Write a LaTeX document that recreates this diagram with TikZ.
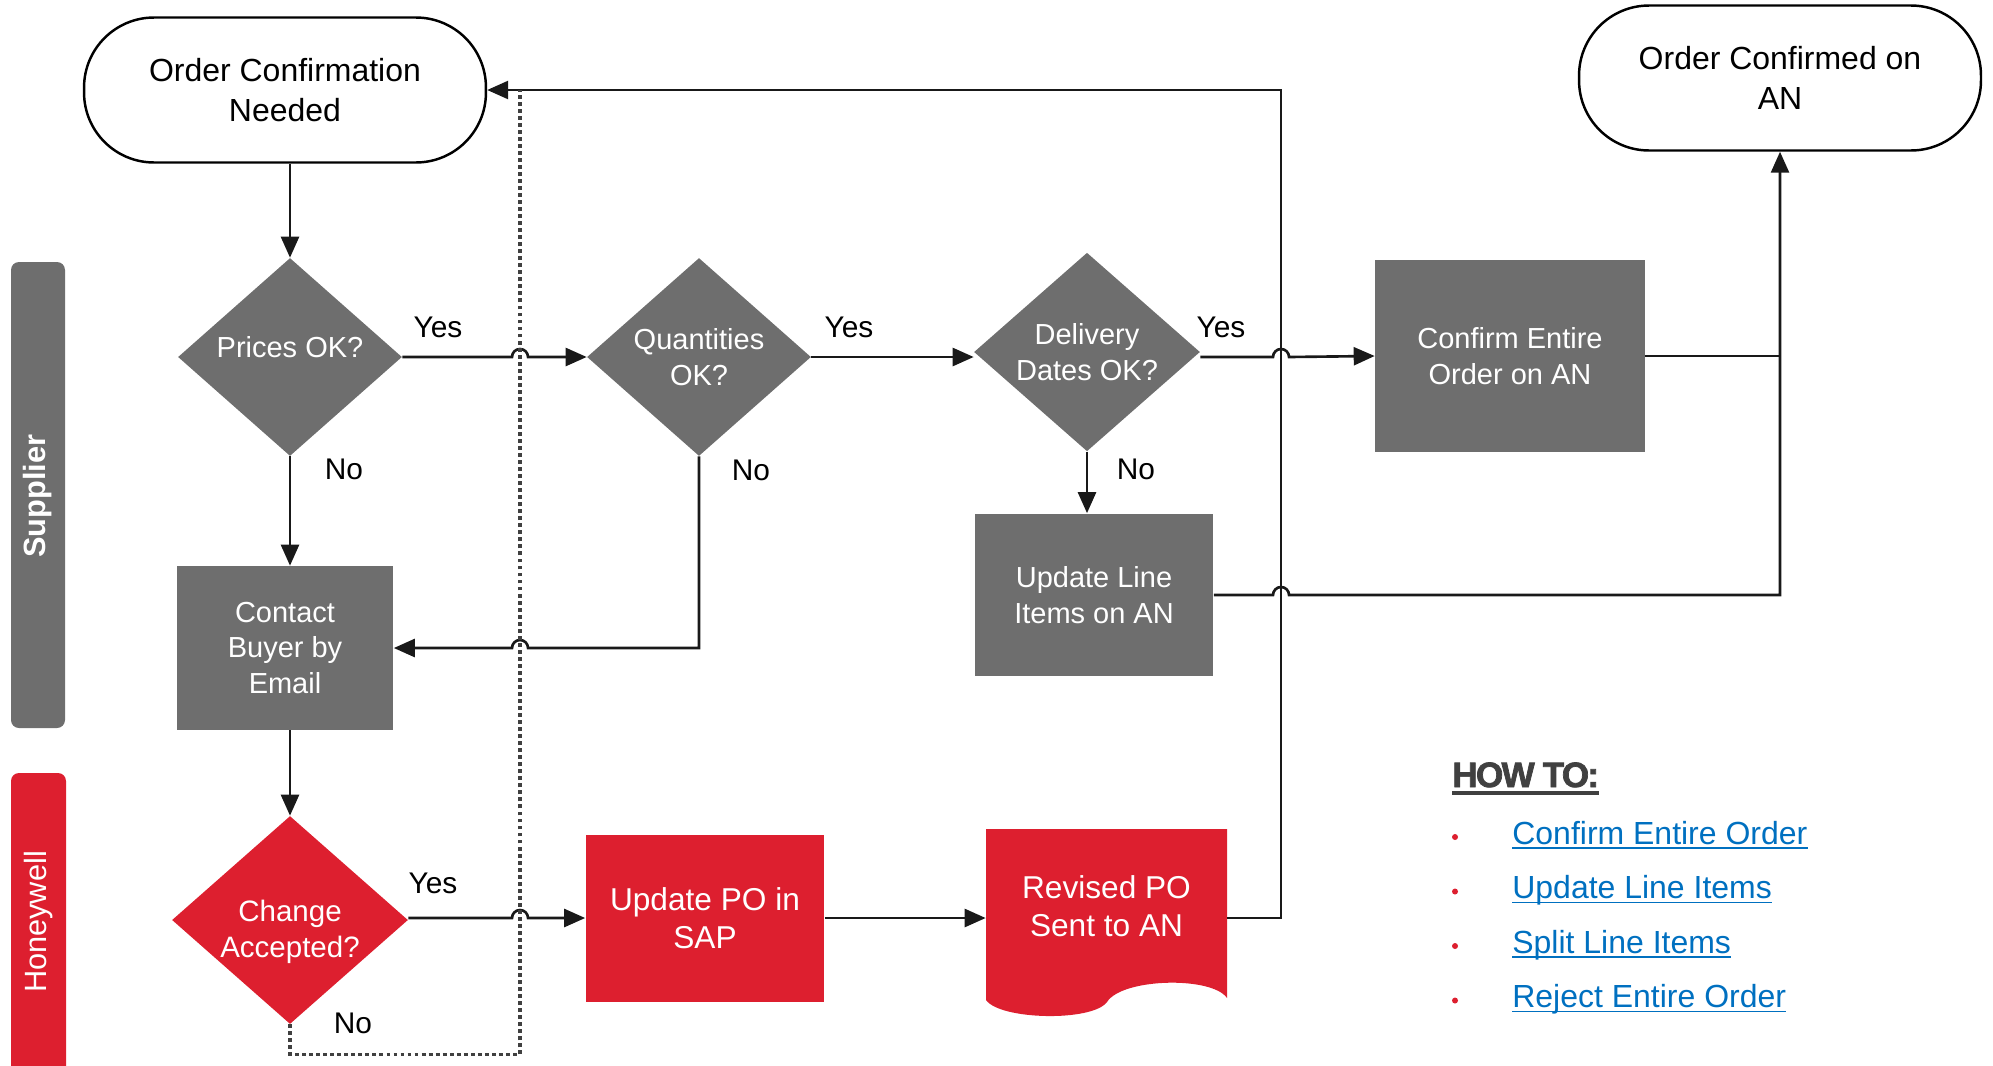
\documentclass[tikz,border=0pt]{standalone}
\usepackage{fontspec}
\setmainfont{Liberation Sans}
\newfontfamily\heavyfont[FakeBold=2,LetterSpace=-5]{Liberation Sans Bold}
\usetikzlibrary{arrows.meta,shapes.geometric,calc}
\definecolor{hwred}{HTML}{DD1F2F}
\definecolor{boxgray}{HTML}{6E6E6E}
\definecolor{linkblue}{HTML}{0070C0}
\definecolor{headgray}{HTML}{404040}
\newcommand\fs[2]{\fontsize{#1}{#2}\selectfont}

\begin{document}
\begin{tikzpicture}[x=0.02cm,y=-0.02cm,
  term/.style={draw,line width=1.4pt,rounded corners=1.4cm,minimum width=8.04cm,minimum height=2.9cm,align=center,font=\fs{18.2}{22.4}},
  decide/.style={diamond,fill=boxgray,text=white,inner sep=0pt,minimum width=4.48cm,minimum height=3.96cm,align=center,font=\fs{16.5}{20.2}},
  grybox/.style={rectangle,fill=boxgray,text=white,align=center,font=\fs{16.5}{20.2}},
  redbox/.style={rectangle,fill=hwred,text=white,align=center,font=\fs{18}{21.6}},
  conn/.style={line width=1.5pt,draw=black!90},
  arr/.style={conn,-{Triangle[length=0.42cm,width=0.36cm]}},
  lbl/.style={font=\fs{17}{20}},
  lane/.style={text=white,rotate=90,font=\fs{17.5}{20}},
  linkitem/.style={anchor=base west,inner sep=0pt,text=linkblue,font=\fs{18.2}{22}}]
\useasboundingbox (0,0) rectangle (1993,1065);

\fill[boxgray,rounded corners=0.16cm] (11,262) rectangle (65,728);
\node[lane,font=\bfseries\fs{17.5}{20}] (supp) at (38,496) {Supplier};
\fill[hwred,rounded corners=0.16cm] (11,773) rectangle (66,1120);
\node[lane] (hw) at (39,922) {Honeywell};

\coordinate (dot) at (520,0);
\coordinate (ret) at (1281,0);

\node[term] (start) at (285,90) {Order Confirmation\\Needed};
\node[term] (done) at (1780,78) {Order Confirmed on\\AN};
\node[decide,text depth=0.42cm] (prices) at (290,357) {Prices OK?};
\node[decide] (qty) at (699,357) {Quantities\\OK?};
\node[decide,minimum width=4.52cm,minimum height=3.94cm] (dates) at (1087,352) {Delivery\\Dates OK?};
\node[grybox,minimum width=5.4cm,minimum height=3.86cm] (whole) at (1510,356) {Confirm Entire\\Order on AN};
\node[grybox,minimum width=4.78cm,minimum height=3.26cm] (lines) at (1094,595) {Update Line\\Items on AN};
\node[grybox,minimum width=4.34cm,minimum height=3.28cm] (buyer) at (285,648) {Contact\\Buyer by\\Email};
\node[decide,fill=hwred,minimum width=4.72cm,minimum height=4.16cm,font=\fs{16.8}{20.2}] (accept) at (290,920) {\raisebox{-0.4cm}[0pt][0pt]{\begin{tabular}{@{}c@{}}Change\\Accepted?\end{tabular}}};
\node[redbox,minimum width=4.78cm,minimum height=3.34cm] (sap) at (705,918) {Update PO in\\SAP};
\fill[hwred] (986,829) -- (1227,829) -- (1227,998) .. controls (1212,976) and (1122,978) .. (1107,1002) .. controls (1092,1022) and (1000,1020) .. (986,1000) -- cycle;
\node[redbox,fill=none,minimum width=4.82cm] (revised) at (1106.5,906) {Revised PO\\Sent to AN};

\draw[arr] (prices.north |- start.south) -- (prices.north);
\draw[arr] (prices.east) -- ($(prices.east -| dot)+(-8,0)$) arc (180:360:8) -- (qty.west);
\draw[arr] (qty.east) -- (qty.east -| dates.west);
\draw[arr] (qty.east -| dates.east) -- ($(qty.east -| ret)+(-8,0)$) arc (180:360:8) -- (whole.west);
\draw[conn] (whole.east) -- (whole.east -| done.south);
\draw[arr] (lines.east) -- ($(lines.east -| ret)+(-8,0)$) arc (180:360:8) -- (lines.east -| done.south) -- (done.south);
\draw[arr] (dates.south) -- (dates.south |- lines.north);
\draw[arr] (prices.south) -- (prices.south |- buyer.north);
\draw[arr] (qty.south) -- (qty.south |- buyer.east) -- ($(buyer.east -| dot)+(8,0)$) arc (360:180:8) -- (buyer.east);
\draw[arr] (accept.north |- buyer.south) -- (accept.north);
\draw[arr] (sap.west -| accept.east) -- ($(sap.west -| dot)+(-8,0)$) arc (180:360:8) -- (sap.west);
\draw[arr] (sap.east) -- (sap.east -| revised.west);
\draw[arr] (sap.east -| revised.east) -- (sap.east -| ret) -- (ret |- start.east) -- (start.east);
\draw[conn,line width=2pt,draw=black!75,dash pattern=on 2.2pt off 1.8pt] (accept.south) -- ++(0,30) -| (dot |- start.east);

\node[lbl] (yes1) at (438,327) {Yes};
\node[lbl] (yes2) at (849,327) {Yes};
\node[lbl] (yes3) at (1221,327) {Yes};
\node[lbl] (yes4) at (433,883) {Yes};
\node[lbl] (no1) at (344,469) {No};
\node[lbl] (no2) at (751,470) {No};
\node[lbl] (no3) at (1136,469) {No};
\node[lbl] (no4) at (353,1023) {No};

\node[anchor=base west,inner sep=0pt,text=headgray,font=\heavyfont\fs{20}{24}] (howto) at (1452,787) {HOW TO:};
\draw[headgray,line width=1.8pt] ($(howto.base west)+(0,6)$) -- ($(howto.base east)+(0,6)$);
\foreach \t [count=\i] in {Confirm Entire Order,Update Line Items,Split Line Items,Reject Entire Order}{
  \node[linkitem] (item\i) at (1512,{789.5+54.5*\i}) {\t};
  \draw[linkblue,line width=1pt] ($(item\i.base west)+(0,4)$) -- ($(item\i.base east)+(0,4)$);
  \fill[hwred] ($(item\i.base west)+(-57,-7)$) circle (3);
}
\end{tikzpicture}
\end{document}
